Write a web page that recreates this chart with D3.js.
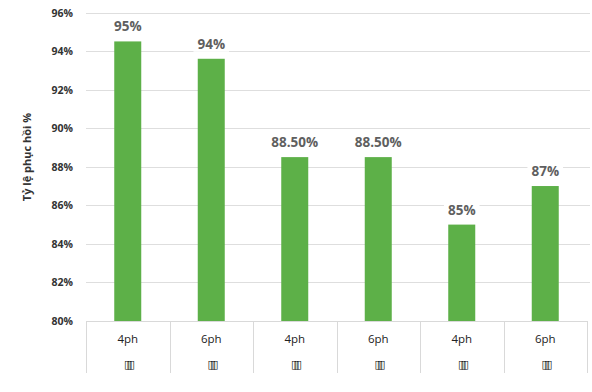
<!DOCTYPE html>
<html>
<head>
<meta charset="utf-8">
<script src="https://cdn.jsdelivr.net/npm/d3@7"></script>
<style>
  body { margin: 0; background: #fff; }
  text { font-family: "Open Sans", "Noto Sans", sans-serif; }
</style>
</head>
<body>
<div id="chart"></div>
<script>
// data
var times = ['4ph', '6ph', '4ph', '6ph', '4ph', '6ph'];
var groups = ['\u25AF\u25AF\u25AF', '\u25AF\u25AF\u25AF', '\u25AF\u25AF\u25AF', '\u25AF\u25AF\u25AF', '\u25AF\u25AF\u25AF', '\u25AF\u25AF\u25AF'];
var values = [94.5, 93.6, 88.5, 88.5, 85, 87];
var valueLabels = ['95%', '94%', '88.50%', '88.50%', '85%', '87%'];
var yTicks = [80, 82, 84, 86, 88, 90, 92, 94, 96];

var width = 592, height = 392;
var plotLeft = 86, plotRight = 587, plotTop = 12.5, plotBottom = 321;

var svg = d3.select('#chart').append('svg')
  .attr('width', width)
  .attr('height', height);

var x = d3.scaleBand()
  .domain(d3.range(values.length))
  .range([plotLeft, plotRight]);

var y = d3.scaleLinear()
  .domain([80, 96])
  .range([plotBottom, plotTop]);

var barW = 27;

// gridlines
svg.append('g')
  .selectAll('line')
  .data(yTicks.slice(1))
  .enter().append('line')
  .attr('x1', plotLeft)
  .attr('x2', 590)
  .attr('y1', function (d) { return Math.round(y(d)) + 0.5; })
  .attr('y2', function (d) { return Math.round(y(d)) + 0.5; })
  .attr('stroke', '#dedede')
  .attr('stroke-width', 1);

// y axis labels
svg.append('g')
  .selectAll('text')
  .data(yTicks)
  .enter().append('text')
  .attr('x', 73)
  .attr('y', function (d) { return y(d) + 4; })
  .attr('text-anchor', 'end')
  .attr('font-size', '10.5px')
  .attr('font-weight', 'bold')
  .attr('fill', '#333')
  .text(function (d) { return d + '%'; });

// y title
svg.append('text')
  .attr('transform', 'translate(31,157) rotate(-90)')
  .attr('text-anchor', 'middle')
  .attr('font-size', '11px')
  .attr('font-weight', 'bold')
  .attr('fill', '#333')
  .text('Tỷ lệ phục hồi %');

// bars
svg.append('g')
  .selectAll('rect')
  .data(values)
  .enter().append('rect')
  .attr('x', function (d, i) { return x(i) + x.bandwidth() / 2 - barW / 2; })
  .attr('y', function (d) { return y(d); })
  .attr('width', barW)
  .attr('height', function (d) { return y(80) - y(d); })
  .attr('fill', '#5db048');

// value labels with white backing
var lab = svg.append('g')
  .selectAll('g')
  .data(values)
  .enter().append('g')
  .attr('transform', function (d, i) {
    return 'translate(' + (x(i) + x.bandwidth() / 2) + ',' + (y(d) - 10) + ')';
  });

lab.append('text')
  .attr('text-anchor', 'middle')
  .attr('font-size', '13.5px')
  .attr('font-weight', 'bold')
  .attr('fill', '#5f5f5f')
  .text(function (d, i) { return valueLabels[i]; })
  .each(function () {
    var b = this.getBBox();
    d3.select(this.parentNode).insert('rect', 'text')
      .attr('x', b.x - 4)
      .attr('y', b.y + 1)
      .attr('width', b.width + 8)
      .attr('height', b.height - 2)
      .attr('fill', '#fff');
  });

// category axis boxes
var axis = svg.append('g');
axis.append('line')
  .attr('x1', plotLeft).attr('x2', plotRight)
  .attr('y1', plotBottom + 0.5).attr('y2', plotBottom + 0.5)
  .attr('stroke', '#d9d9d9');

axis.selectAll('line.sep')
  .data(d3.range(values.length + 1))
  .enter().append('line')
  .attr('class', 'sep')
  .attr('x1', function (i) { return Math.round(i < values.length ? x(i) : plotRight) + 0.5; })
  .attr('x2', function (i) { return Math.round(i < values.length ? x(i) : plotRight) + 0.5; })
  .attr('y1', plotBottom)
  .attr('y2', 373)
  .attr('stroke', '#d9d9d9');

axis.selectAll('text.t')
  .data(times)
  .enter().append('text')
  .attr('class', 't')
  .attr('x', function (d, i) { return x(i) + x.bandwidth() / 2; })
  .attr('y', 343)
  .attr('text-anchor', 'middle')
  .attr('font-size', '11.5px')
  .attr('fill', '#222')
  .text(function (d) { return d; });

axis.selectAll('text.g')
  .data(groups)
  .enter().append('text')
  .attr('class', 'g')
  .attr('x', function (d, i) { return x(i) + x.bandwidth() / 2; })
  .attr('y', 368)
  .attr('text-anchor', 'middle')
  .attr('font-size', '11px')
  .attr('letter-spacing', '-3.5px')
  .attr('fill', '#111')
  .style('font-family', 'DejaVu Sans')
  .text(function (d) { return d; });
</script>
</body>
</html>
